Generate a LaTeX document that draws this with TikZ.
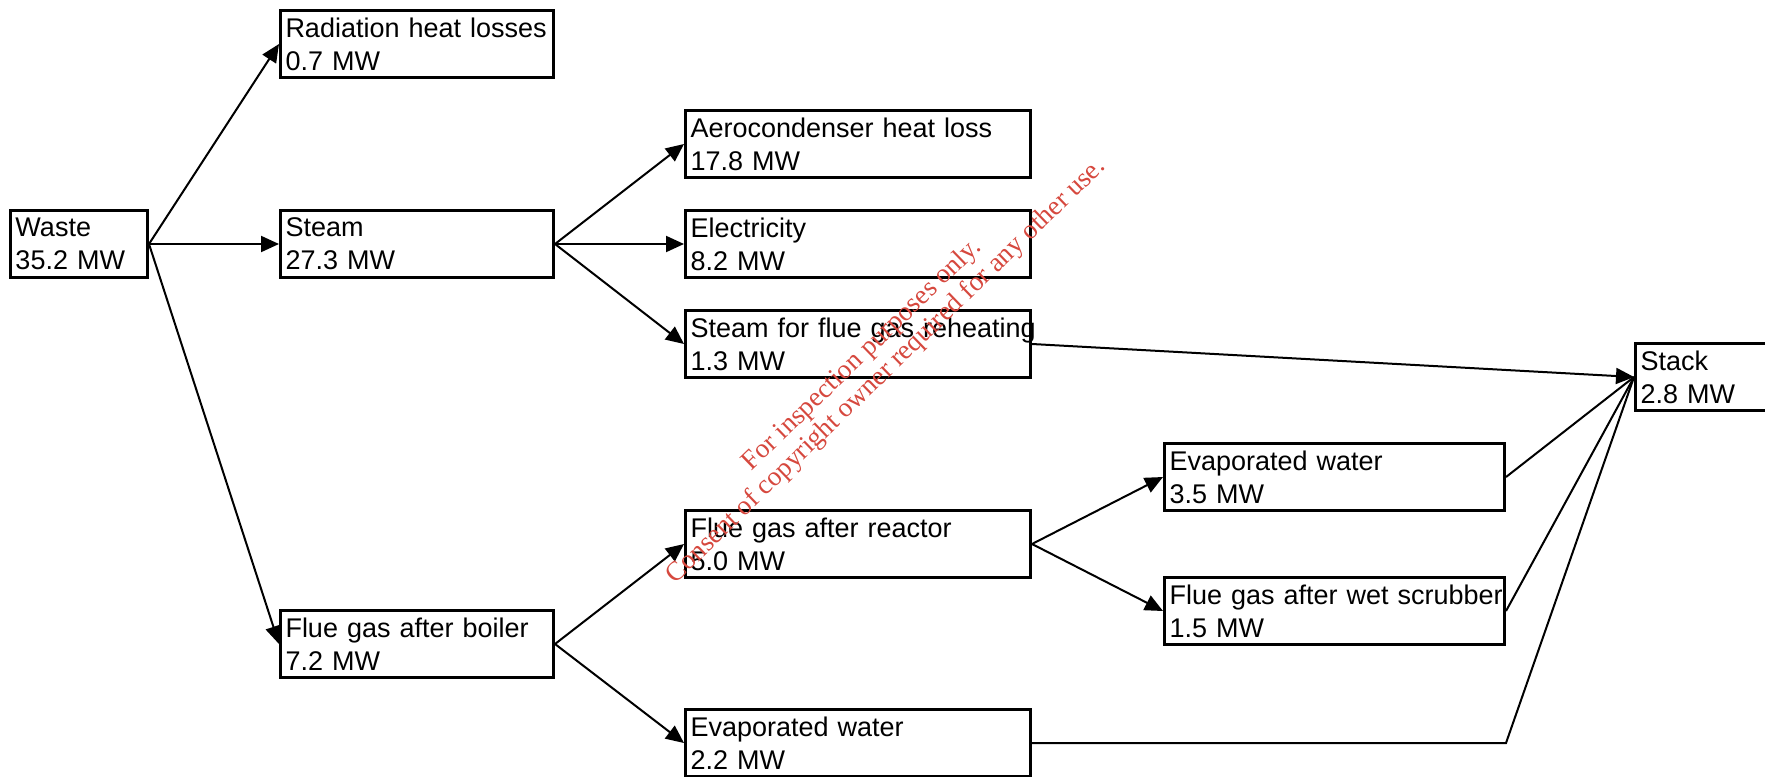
\documentclass[tikz,border=0pt]{standalone}
\usepackage{fontspec}
\setmainfont{Liberation Sans}
\newfontfamily\wmfont{Liberation Serif}
\usetikzlibrary{arrows.meta}
\definecolor{wmred}{RGB}{214,72,62}

\begin{document}
\begin{tikzpicture}[x=0.5pt, y=-0.5pt, >={Triangle[length=9pt,width=8pt]}, line width=1pt,
    box/.style={draw, line width=1.5pt, anchor=north west, minimum height=33.5pt,
        inner xsep=2.5pt, inner ysep=0pt, align=left,
        font=\fontsize{13.5pt}{16.5pt}\selectfont},
    boxS/.style={box, text width=63.5pt},
    boxM/.style={box, text width=131.5pt},
    boxL/.style={box, text width=167.5pt},
    boxR/.style={box, text width=165pt},
    boxT/.style={box, text width=61pt},
    wmark/.style={anchor=base, rotate=44, text=wmred, inner sep=0pt,
        font=\wmfont\fontsize{13.6pt}{14pt}\selectfont}]
    \useasboundingbox (0,0) rectangle (1765,776);

    % boxes
    \node[boxS] (waste) at (9,209) {Waste\\35.2 MW};
    \node[boxM] (rad) at (279,9) {\mbox{Radiation heat losses}\\0.7 MW};
    \node[boxM] (steam) at (279,209) {Steam\\27.3 MW};
    \node[boxM] (boiler) at (279,609) {\mbox{Flue gas after boiler}\\7.2 MW};
    \node[boxL] (aero) at (684,109) {\mbox{Aerocondenser heat loss}\\17.8 MW};
    \node[boxL] (elec) at (684,209) {Electricity\\8.2 MW};
    \node[boxL] (reheat) at (684,309) {\mbox{Steam for flue gas reheating}\\1.3 MW};
    \node[boxL] (reactor) at (684,509) {\mbox{Flue gas after reactor}\\5.0 MW};
    \node[boxL] (evapB) at (684,708) {Evaporated water\\2.2 MW};
    \node[boxR] (evapA) at (1163,442) {Evaporated water\\3.5 MW};
    \node[boxR] (wet) at (1163,576) {\mbox{Flue gas after wet scrubber}\\1.5 MW};
    \node[boxT] (stack) at (1634,342) {Stack\\2.8 MW};

    % flows
    \draw[->] (waste.east) -- (rad.west);
    \draw[->] (waste.east) -- (steam.west);
    \draw[->] (waste.east) -- (boiler.west);
    \draw[->] (steam.east) -- (aero.west);
    \draw[->] (steam.east) -- (elec.west);
    \draw[->] (steam.east) -- (reheat.west);
    \draw[->] (boiler.east) -- (reactor.west);
    \draw[->] (boiler.east) -- (evapB.west);
    \draw[->] (reactor.east) -- (evapA.west);
    \draw[->] (reactor.east) -- (wet.west);

    % into the stack
    \draw (evapA.east) -- (stack.west);
    \draw (wet.east) -- (stack.west);
    \draw (evapB.east) -- (wet.east |- evapB.east) -- (stack.west);
    \draw[->] (reheat.east) -- (stack.west);

    % watermark
    \node[wmark] (wm1) at (867,360) {For inspection purposes only.};
    \node[wmark] (wm2) at (891,376) {Consent of copyright owner required for any other use.};
\end{tikzpicture}
\end{document}
